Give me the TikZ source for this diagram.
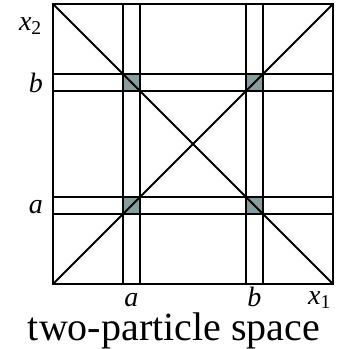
\documentclass[tikz,border=0pt]{standalone}
\usepackage{fontspec}
\setmainfont{Liberation Serif}
\definecolor{cellgray}{RGB}{136,158,158}
\tikzset{
  gridline/.style={line width=1.9pt},
  cell/.style={fill=cellgray},
  axislabel/.style={font=\fontsize{28}{32}\selectfont\itshape, inner sep=0pt},
  caption/.style={font=\fontsize{40}{46}\selectfont, inner sep=0pt}
}

\begin{document}
\begin{tikzpicture}[x=1pt,y=1pt]
  \useasboundingbox (-53,-65) rectangle (289,284);
  % corners of the space
  \coordinate (sw) at (0,0);
  \coordinate (ne) at (280,280);
  \coordinate (nw) at (0,280);
  \coordinate (se) at (280,0);
  % shaded cells where the bands cross
  \foreach \u in {70,193}
    \foreach \v in {70,193}
      \fill[cell] (\u,\v) rectangle ++(17,17);
  % band edges
  \foreach \p in {70,87,193,210} {
    \draw[gridline] (\p,0) -- (\p,280);
    \draw[gridline] (0,\p) -- (280,\p);
  }
  \draw[gridline] (sw) rectangle (ne);
  \draw[gridline] (sw) -- (ne);
  \draw[gridline] (nw) -- (se);
  % labels
  \node[axislabel, anchor=base east] (xtwo) at (-11,254) {x\textsubscript{\upshape 2}};
  \node[axislabel, anchor=base east] (lefb) at (-10,192) {b};
  \node[axislabel, anchor=base east] (lefa) at (-10,71) {a};
  \node[axislabel, anchor=base] (bota) at (78.5,-22) {a};
  \node[axislabel, anchor=base] (botb) at (201.5,-22) {b};
  \node[axislabel, anchor=base west] (xone) at (255,-20) {x\textsubscript{\upshape 1}};
  \node[caption, anchor=base] (title) at (121,-56) {two-particle space};
\end{tikzpicture}
\end{document}
